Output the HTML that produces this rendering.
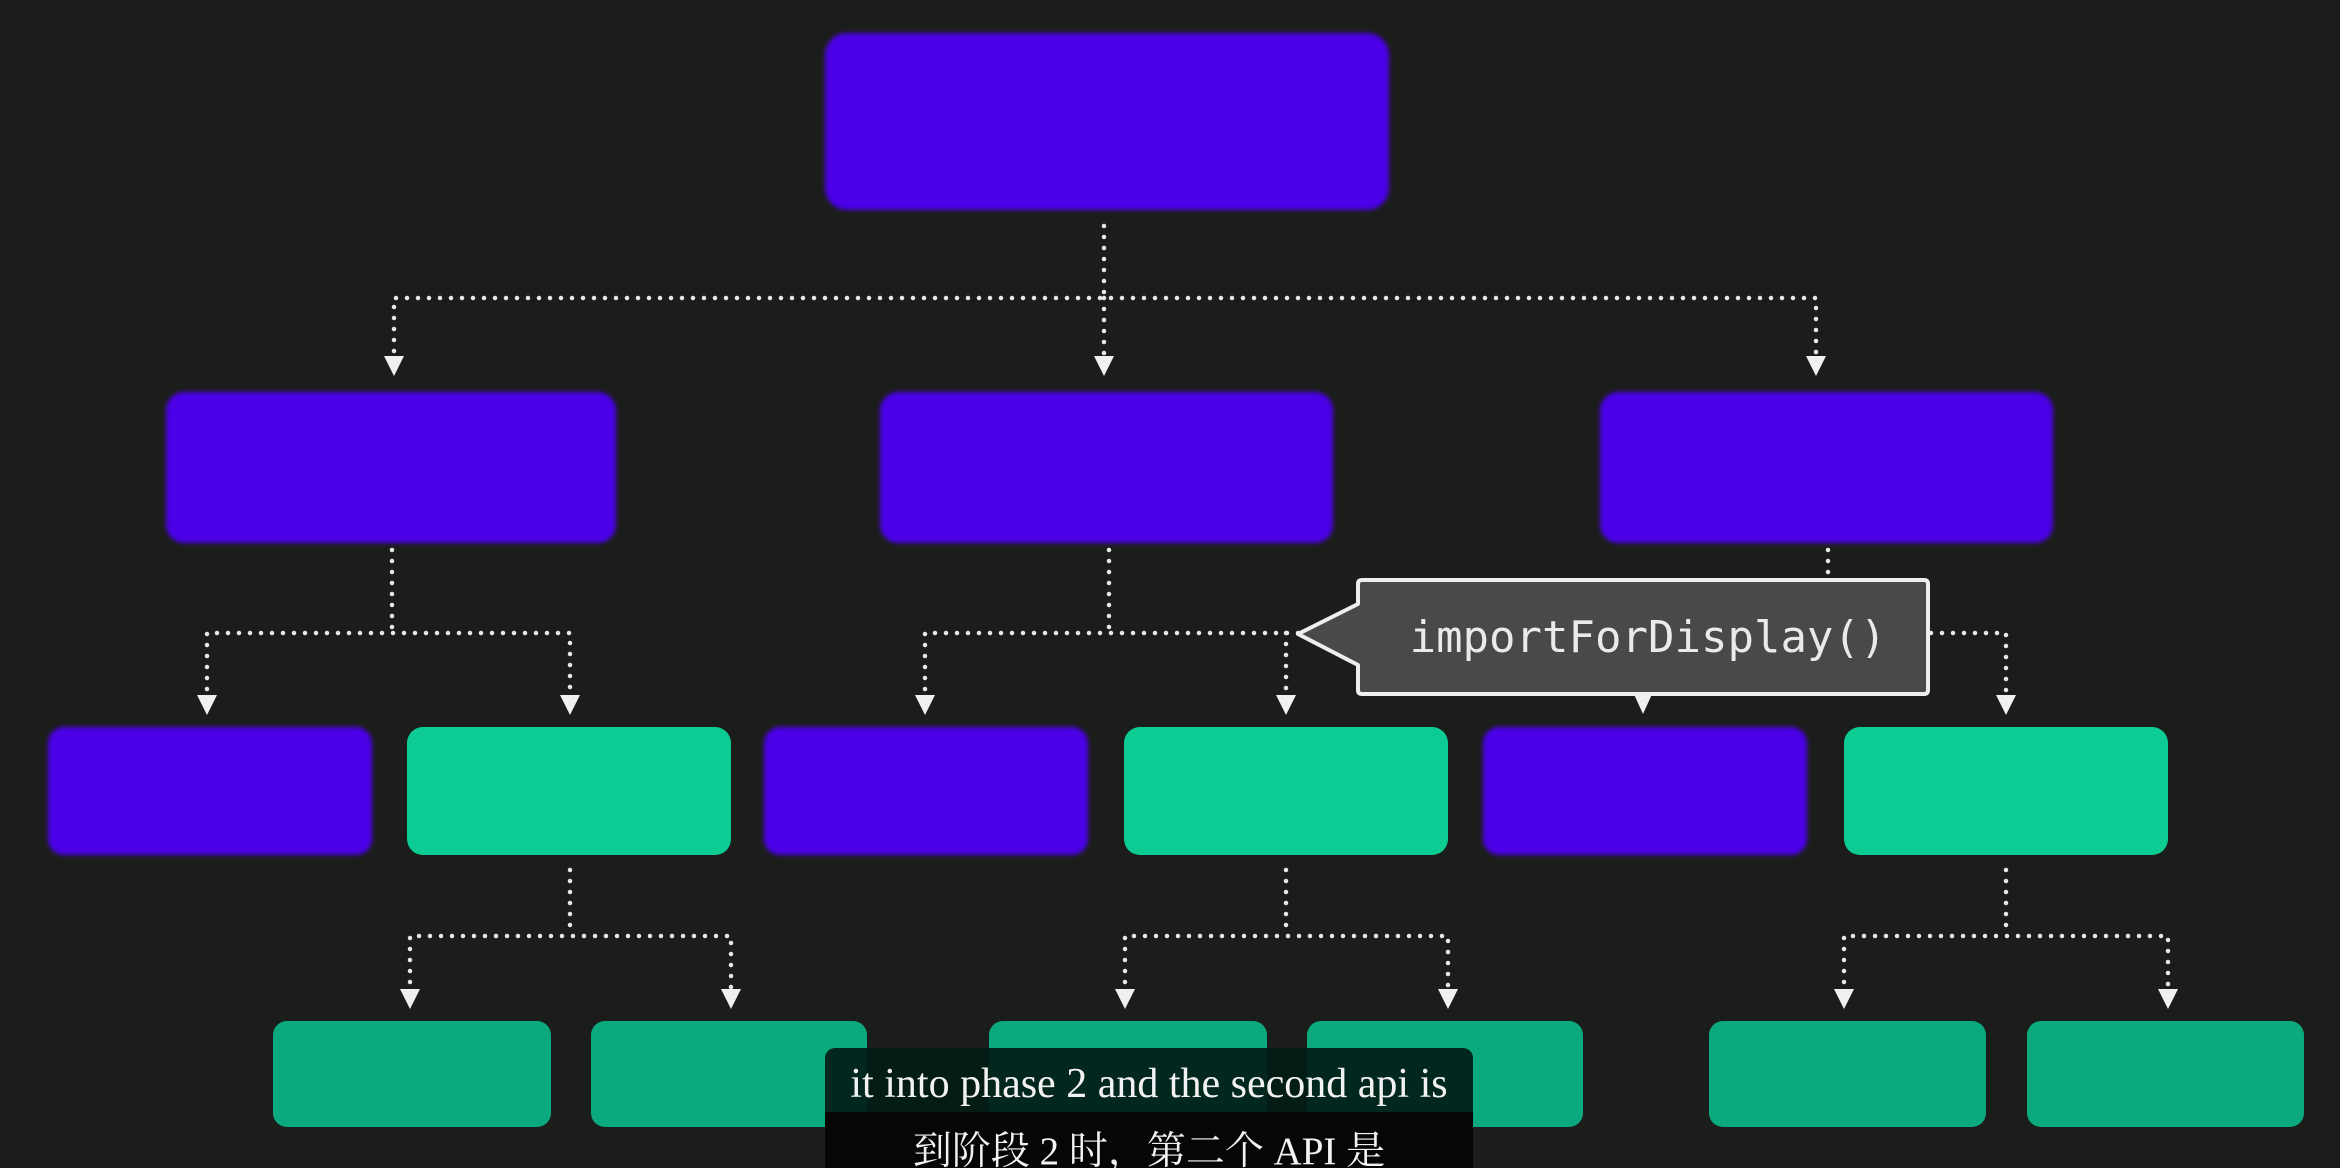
<!DOCTYPE html>
<html><head><meta charset="utf-8"><style>
html,body{margin:0;padding:0;background:#1b1d1a;}
body{width:2340px;height:1168px;overflow:hidden;position:relative;}
svg{position:absolute;left:0;top:0;}
.sub{position:absolute;left:825px;top:1048px;width:648px;height:120px;border-radius:10px 10px 0 0;overflow:hidden;}
.l1{height:64px;background:rgba(2,28,22,0.92);}
.l2{height:56px;background:#050605;}
.t{position:absolute;left:0;width:648px;text-align:center;color:#f2f2f2;font-family:"Liberation Serif","Noto Serif CJK SC",serif;white-space:nowrap;}
</style></head><body>
<svg width="2340" height="1168" viewBox="0 0 2340 1168">
<defs>
<filter id="g" x="-10%" y="-10%" width="120%" height="120%"><feGaussianBlur stdDeviation="2.5"/></filter>
</defs>
<g fill="#4b00e8" filter="url(#g)">
<rect x="825" y="33" width="564" height="177" rx="22"/>
<rect x="166" y="392" width="450" height="151" rx="18"/>
<rect x="880" y="392" width="453" height="151" rx="18"/>
<rect x="1600" y="392" width="453" height="151" rx="18"/>
<rect x="48" y="727" width="324" height="128" rx="16"/>
<rect x="764" y="727" width="324" height="128" rx="16"/>
<rect x="1483" y="727" width="324" height="128" rx="16"/>
</g>
<g fill="#0dcc93">
<rect x="407" y="727" width="324" height="128" rx="16"/>
<rect x="1124" y="727" width="324" height="128" rx="16"/>
<rect x="1844" y="727" width="324" height="128" rx="16"/>
</g>
<g fill="#0aaa7e">
<rect x="273" y="1021" width="278" height="106" rx="14"/>
<rect x="591" y="1021" width="276" height="106" rx="14"/>
<rect x="989" y="1021" width="278" height="106" rx="14"/>
<rect x="1307" y="1021" width="276" height="106" rx="14"/>
<rect x="1709" y="1021" width="277" height="106" rx="14"/>
<rect x="2027" y="1021" width="277" height="106" rx="14"/>
</g>
<g fill="none" stroke="#e8e8e8" stroke-width="4.5" stroke-linecap="round" stroke-dasharray="0 11">
<path d="M1104 226 V298 M394 362 V298 H1816 V362 M1104 298 V362"/>
<path d="M392 550 V633 M207 700 V633 H570 V700"/>
<path d="M1109 550 V633 M925 700 V633 H1300 M1286 633 V700"/>
<path d="M1828 550 V574 M1931 633 H2006 V700"/>
<path d="M570 870 V936 M410 993 V936 H731 V993"/>
<path d="M1286 870 V936 M1125 993 V936 H1448 V993"/>
<path d="M2006 870 V936 M1844 993 V936 H2168 V993"/>
</g>
<g fill="#f0f0f0">
<path d="M384 356 h20 l-10 20z M1094 356 h20 l-10 20z M1806 356 h20 l-10 20z"/>
<path d="M197 695 h20 l-10 20z M560 695 h20 l-10 20z M915 695 h20 l-10 20z M1276 695 h20 l-10 20z M1996 695 h20 l-10 20z M1633 692 h20 l-10 22z"/>
<path d="M400 989 h20 l-10 20z M721 989 h20 l-10 20z M1115 989 h20 l-10 20z M1438 989 h20 l-10 20z M1834 989 h20 l-10 20z M2158 989 h20 l-10 20z"/>
</g>
<path d="M1362 580 H1924 Q1928 580 1928 584 V690 Q1928 694 1924 694 H1362 Q1358 694 1358 690 V665 L1298 634 L1358 604 V584 Q1358 580 1362 580 Z" fill="#474a46" stroke="#eeeeee" stroke-width="4" stroke-linejoin="round"/>
<text x="1648" y="652" text-anchor="middle" fill="#eaeaea" font-family="DejaVu Sans Mono, Liberation Mono, monospace" font-size="44">importForDisplay()</text>
</svg>
<div class="sub"><div class="l1"></div><div class="l2"></div>
<div class="t" style="top:12px;font-size:42px;">it into phase 2 and the second api is</div>
<div class="t" style="top:72px;font-size:39px;">到阶段 2 时，第二个 API 是</div>
</div>
</body></html>
